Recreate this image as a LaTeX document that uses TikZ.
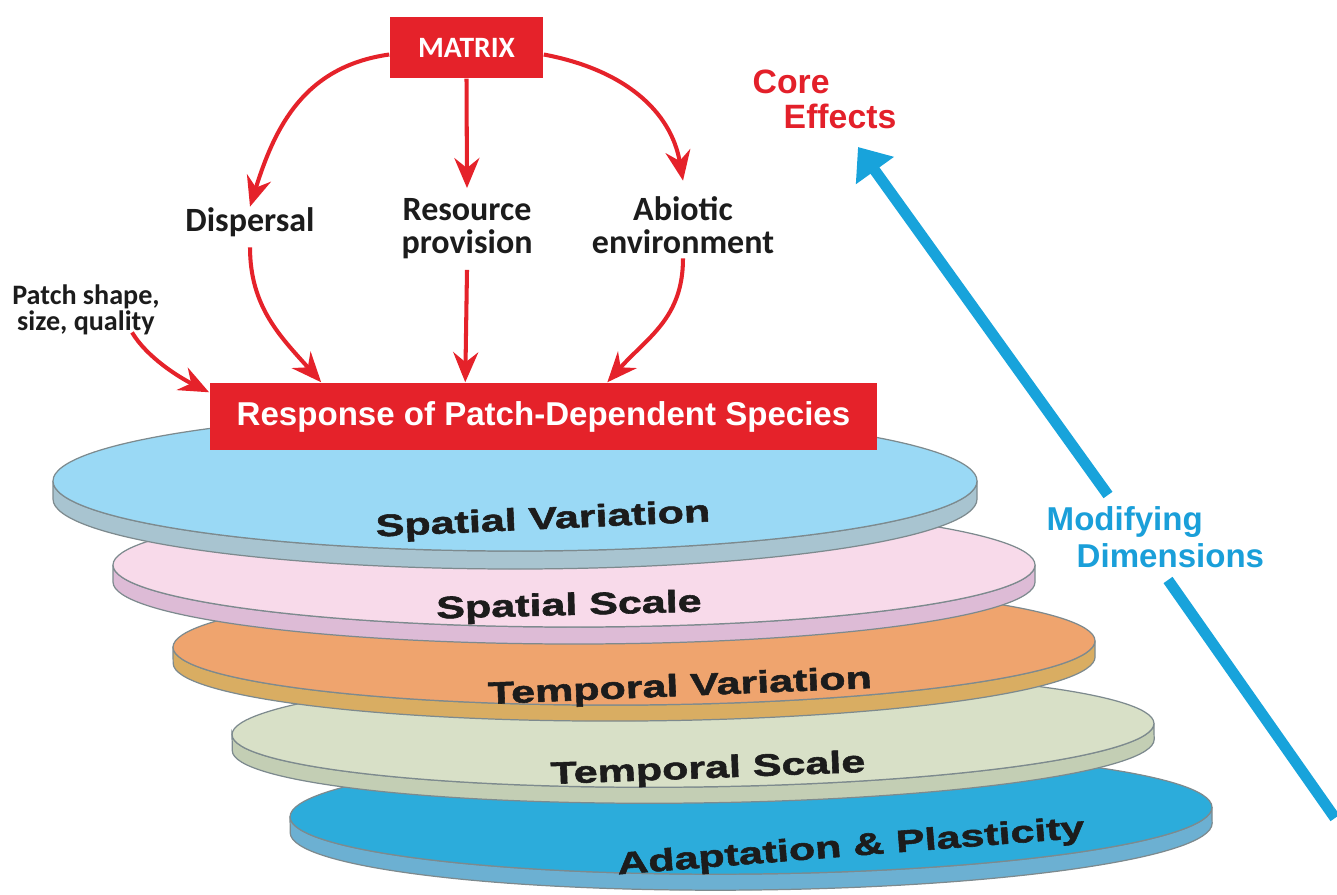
\documentclass[tikz,border=0pt]{standalone}
\usepackage{fontspec}
\setmainfont{Liberation Sans}
\newfontfamily\calib{Carlito}
\newfontfamily\widefont{Liberation Sans}[FakeStretch=1.39, FakeBold=1.8]
\usetikzlibrary{arrows.meta}

\definecolor{boxred}{HTML}{E5222A}
\definecolor{corered}{HTML}{E3202A}
\definecolor{barblue}{HTML}{18A3DB}
\definecolor{dimblue}{HTML}{1A9FD9}
\definecolor{labelblack}{HTML}{1C1C1C}
\definecolor{edgegray}{HTML}{7D8A8E}
% disc faces and sides
\definecolor{skytop}{HTML}{9AD9F5}
\definecolor{skyside}{HTML}{A8C4D0}
\definecolor{pinktop}{HTML}{F8DAEA}
\definecolor{pinkside}{HTML}{DDBBD6}
\definecolor{orangetop}{HTML}{EFA46E}
\definecolor{orangeside}{HTML}{D9AD62}
\definecolor{sagetop}{HTML}{D8E0C7}
\definecolor{sageside}{HTML}{C3CEB4}
\definecolor{deeptop}{HTML}{2CACDB}
\definecolor{deepside}{HTML}{6CB0D2}

% #1 cx, #2 cy, #3 rx, #4 ry, #5 thickness, #6 top colour, #7 side colour, #8 tilt
\newcommand{\stackdisc}[8]{%
  \begin{scope}[rotate around={#8:(#1,#2)}]
  \filldraw[discedge, fill=#7] (#1-#3,#2) -- (#1-#3,#2+#5)
    arc[start angle=180, end angle=0, x radius=#3, y radius=#4]
    -- (#1+#3,#2)
    arc[start angle=0, end angle=180, x radius=#3, y radius=#4] -- cycle;
  \filldraw[discedge, fill=#6] (#1,#2) ellipse[x radius=#3, y radius=#4];
  \end{scope}
}

\tikzset{
  discedge/.style={draw=edgegray, line width=0.35pt},
  disclabel/.style={font=\widefont\bfseries\fontsize{8.8}{10}\selectfont, text=labelblack, inner sep=0},
  redbox/.style={fill=boxred, text=white, inner sep=0},
  effectlabel/.style={font=\calib\bfseries\fontsize{9.67}{9.4}\selectfont, align=center, text=labelblack, inner sep=0.1cm},
  redarrow/.style={draw=boxred, line width=1.15pt, -{Stealth[length=0.3cm, width=0.25cm, inset=0.1cm]}},
  bluebar/.style={draw=barblue, line width=0.11cm},
  headline/.style={font=\bfseries\fontsize{9.6}{10}\selectfont, align=left, inner sep=0},
}

\begin{document}
\begin{tikzpicture}[x=0.01cm, y=-0.01cm]
\useasboundingbox (0,0) rectangle (1337,894);

% stacked discs, lowest first
\stackdisc{751}{812}{461}{62}{16}{deeptop}{deepside}{0.6}
\stackdisc{693}{729}{461}{58}{16}{sagetop}{sageside}{0.7}
\stackdisc{634}{644}{461}{61}{16}{orangetop}{orangeside}{0.4}
\stackdisc{574}{565}{461}{62}{17}{pinktop}{pinkside}{0}
\stackdisc{515}{481}{462}{70}{18}{skytop}{skyside}{0}

\node[disclabel, rotate=2.6] (lsv) at (543,521) {Spatial Variation};
\node[disclabel, rotate=1.5] (lss) at (569,607) {Spatial Scale};
\node[disclabel, rotate=2.4] (ltv) at (680,688) {Temporal Variation};
\node[disclabel, rotate=2.2] (lts) at (708,770) {Temporal Scale};
\node[disclabel, rotate=4.5] (lap) at (851,848) {Adaptation \& Plasticity};

% core effects
\node[redbox, minimum width=6.67cm, minimum height=0.67cm,
      font=\bfseries\fontsize{9.4}{10}\selectfont] (resp) at (543.5,416.5)
      {Response of Patch-Dependent Species};
\node[redbox, minimum width=1.53cm, minimum height=0.61cm,
      font=\calib\bfseries\fontsize{8.4}{9}\selectfont] (matrix) at (466.5,47.5) {MATRIX};

\node[effectlabel, inner sep=0] (disp) at (250,222) {Dispersal};
\node[effectlabel] (res) at (467,229) {Resource\\provision};
\node[effectlabel] (abio) at (683,225) {Abiotic\\environment};
\node[effectlabel, font=\calib\bfseries\fontsize{8}{7.2}\selectfont, inner sep=0] (patch) at (86,310)
      {Patch shape,\\size, quality};

\draw[redarrow] ([yshift=-0.07cm]matrix.west) .. controls +(-85,12) and +(25,-80) .. (disp.north);
\draw[redarrow] (matrix.south) -- (res.north);
\draw[redarrow] ([yshift=-0.07cm]matrix.east) .. controls +(80,15) and +(-12,-70) .. ([yshift=0.05cm]abio.north);

\draw[redarrow] ([yshift=-0.1cm]disp.south) .. controls +(0,60) and +(-40,-45) .. ([xshift=1.12cm]resp.north west);
\draw[redarrow] (res.south) -- ([xshift=2.56cm]resp.north west);
\draw[redarrow] ([yshift=0.06cm]abio.south) .. controls +(0,60) and +(40,-45) .. ([xshift=3.98cm]resp.north west);
\draw[redarrow] ([xshift=0.46cm,yshift=0.03cm]patch.south) .. controls +(15,25) and +(-30,-15) .. ([yshift=-0.1cm]resp.north west);

% modifying dimensions axis
\node[headline, text=corered, anchor=north west] (core) at (752,69) {Core\\\hspace*{0.31cm}Effects};
\node[headline, text=dimblue, anchor=north west, font=\bfseries\fontsize{9.4}{10.5}\selectfont] (modif) at (1046,506)
      {Modifying\\\hspace*{0.30cm}Dimensions};

\coordinate (axisfoot) at (1335,818);
\coordinate (axislow) at (1168,580);
\coordinate (axishigh) at (1108,495);
\coordinate (axistip) at (858,147);
\draw[bluebar] (axisfoot) -- (axislow);
\draw[bluebar, -{Triangle[length=0.29cm, width=0.45cm]}] (axishigh) -- (axistip);
\end{tikzpicture}
\end{document}
